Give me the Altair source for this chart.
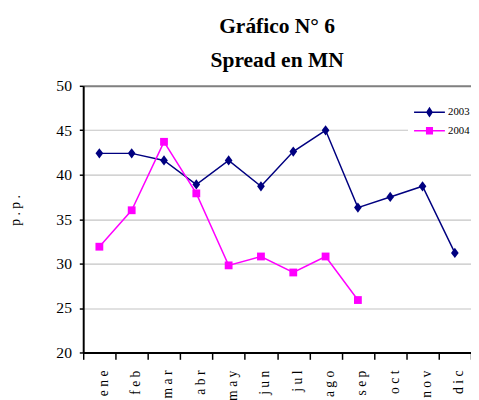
import altair as alt
import pandas as pd

SERIF = "Liberation Serif"

months = ["ene", "feb", "mar", "abr", "may", "jun", "jul", "ago", "sep", "oct", "nov", "dic"]
spread_2003 = [42.4, 42.4, 41.6, 38.9, 41.6, 38.7, 42.6, 45.0, 36.3, 37.5, 38.7, 31.2]
spread_2004 = [31.9, 36.0, 43.7, 37.9, 29.8, 30.8, 29.0, 30.8, 25.9]
years = ["2003", "2004"]
colors = ["#000080", "#FF00FF"]
y_ticks = [20, 25, 30, 35, 40, 45, 50]

rows = []
for m, v in zip(months, spread_2003):
    rows.append({"mes": m, "year": "2003", "valor": v})
for m, v in zip(months, spread_2004):
    rows.append({"mes": m, "year": "2004", "valor": v})
df = pd.DataFrame(rows)

DIAMOND = "M0,-1L0.75,0L0,1L-0.75,0Z"
LEG_DIAMOND = "M-1.54,0H1.54M0,-0.4L0.26,0L0,0.4L-0.26,0Z"
LEG_SQUARE = "M-1.54,0H1.54M-0.28,-0.3H0.28V0.3H-0.28Z"

x = alt.X(
    "mes:N",
    sort=months,
    scale=alt.Scale(type="band", domain=months, paddingInner=0, paddingOuter=0),
    axis=alt.Axis(
        title=None,
        labelAngle=270,
        labelExpr="join(split(datum.label, ''), ' ')",
        labelFont=SERIF,
        labelFontSize=14,
        labelColor="black",
        labelPadding=11,
        labelOffset=4,
        labelOverlap=False,
        tickBand="extent",
        tickSize=7,
        tickColor="black",
        tickWidth=1.5,
        domainColor="black",
        domainWidth=2,
        grid=False,
    ),
)
y = alt.Y(
    "valor:Q",
    scale=alt.Scale(domain=[20, 50], nice=False, zero=False),
    axis=alt.Axis(
        values=y_ticks,
        title="p . p .",
        titleFont=SERIF,
        titleFontSize=14,
        titleFontWeight="normal",
        titleColor="black",
        titleAngle=270,
        titleX=-69,
        titleY=127,
        titleBaseline="middle",
        titleAlign="center",
        labelFont=SERIF,
        labelFontSize=16,
        labelColor="black",
        labelPadding=8,
        tickSize=4,
        tickColor="black",
        tickWidth=1.5,
        domainColor="black",
        domainWidth=2,
        gridColor={"condition": {"test": "datum.value == 50", "value": "#808080"}, "value": "#c4c4c4"},
        gridWidth={"condition": {"test": "datum.value == 50", "value": 2}, "value": 1.2},
    ),
)

base = alt.Chart(df)

line03 = base.transform_filter("datum.year == '2003'").mark_line(
    strokeWidth=1.5, color=colors[0]
).encode(x=x, y=y)
line04 = base.transform_filter("datum.year == '2004'").mark_line(
    strokeWidth=1.5, color=colors[1]
).encode(x=x, y=y)
pts03 = base.transform_filter("datum.year == '2003'").mark_point(
    filled=True, shape=DIAMOND, size=110, color=colors[0], opacity=1
).encode(x=x, y=y)
pts04 = base.transform_filter("datum.year == '2004'").mark_point(
    filled=True, shape="square", size=64, color=colors[1], opacity=1
).encode(x=x, y=y)

leg = alt.Legend(
    title=None,
    orient="none",
    legendX=332.5,
    legendY=5,
    padding=11,
    fillColor="white",
    labelFont=SERIF,
    labelFontSize=11,
    labelColor="black",
    labelOffset=8,
    symbolSize=420,
    symbolStrokeWidth=1.5,
    rowPadding=0,
)
legend_layer = base.transform_filter("false").mark_point(
    filled=True, size=420, strokeWidth=1.5, opacity=1
).encode(
    x=x, y=y,
    fill=alt.Fill("year:N", scale=alt.Scale(domain=years, range=colors), legend=leg),
    stroke=alt.Stroke("year:N", scale=alt.Scale(domain=years, range=colors), legend=leg),
    shape=alt.Shape("year:N", scale=alt.Scale(domain=years, range=[LEG_DIAMOND, LEG_SQUARE]), legend=leg),
)

chart = alt.layer(line03, line04, pts03, pts04, legend_layer).properties(
    width=397,
    height=273,
    autosize=alt.AutoSizeParams(type="none"),
    padding={"left": 77, "top": 75, "right": 0, "bottom": 45},
    title=alt.Title(
        text=["Gráfico N° 6", "Spread en MN"],
        font=SERIF,
        fontSize=22,
        fontWeight="bold",
        lineHeight=35,
        anchor="middle",
        frame="group",
        baseline="bottom",
        offset=11,
        dy=27,
        color="black",
    ),
).configure_view(stroke=None).configure(background="white", font=SERIF)

chart.save("out.html", embed_options={"renderer": "svg", "actions": False})
